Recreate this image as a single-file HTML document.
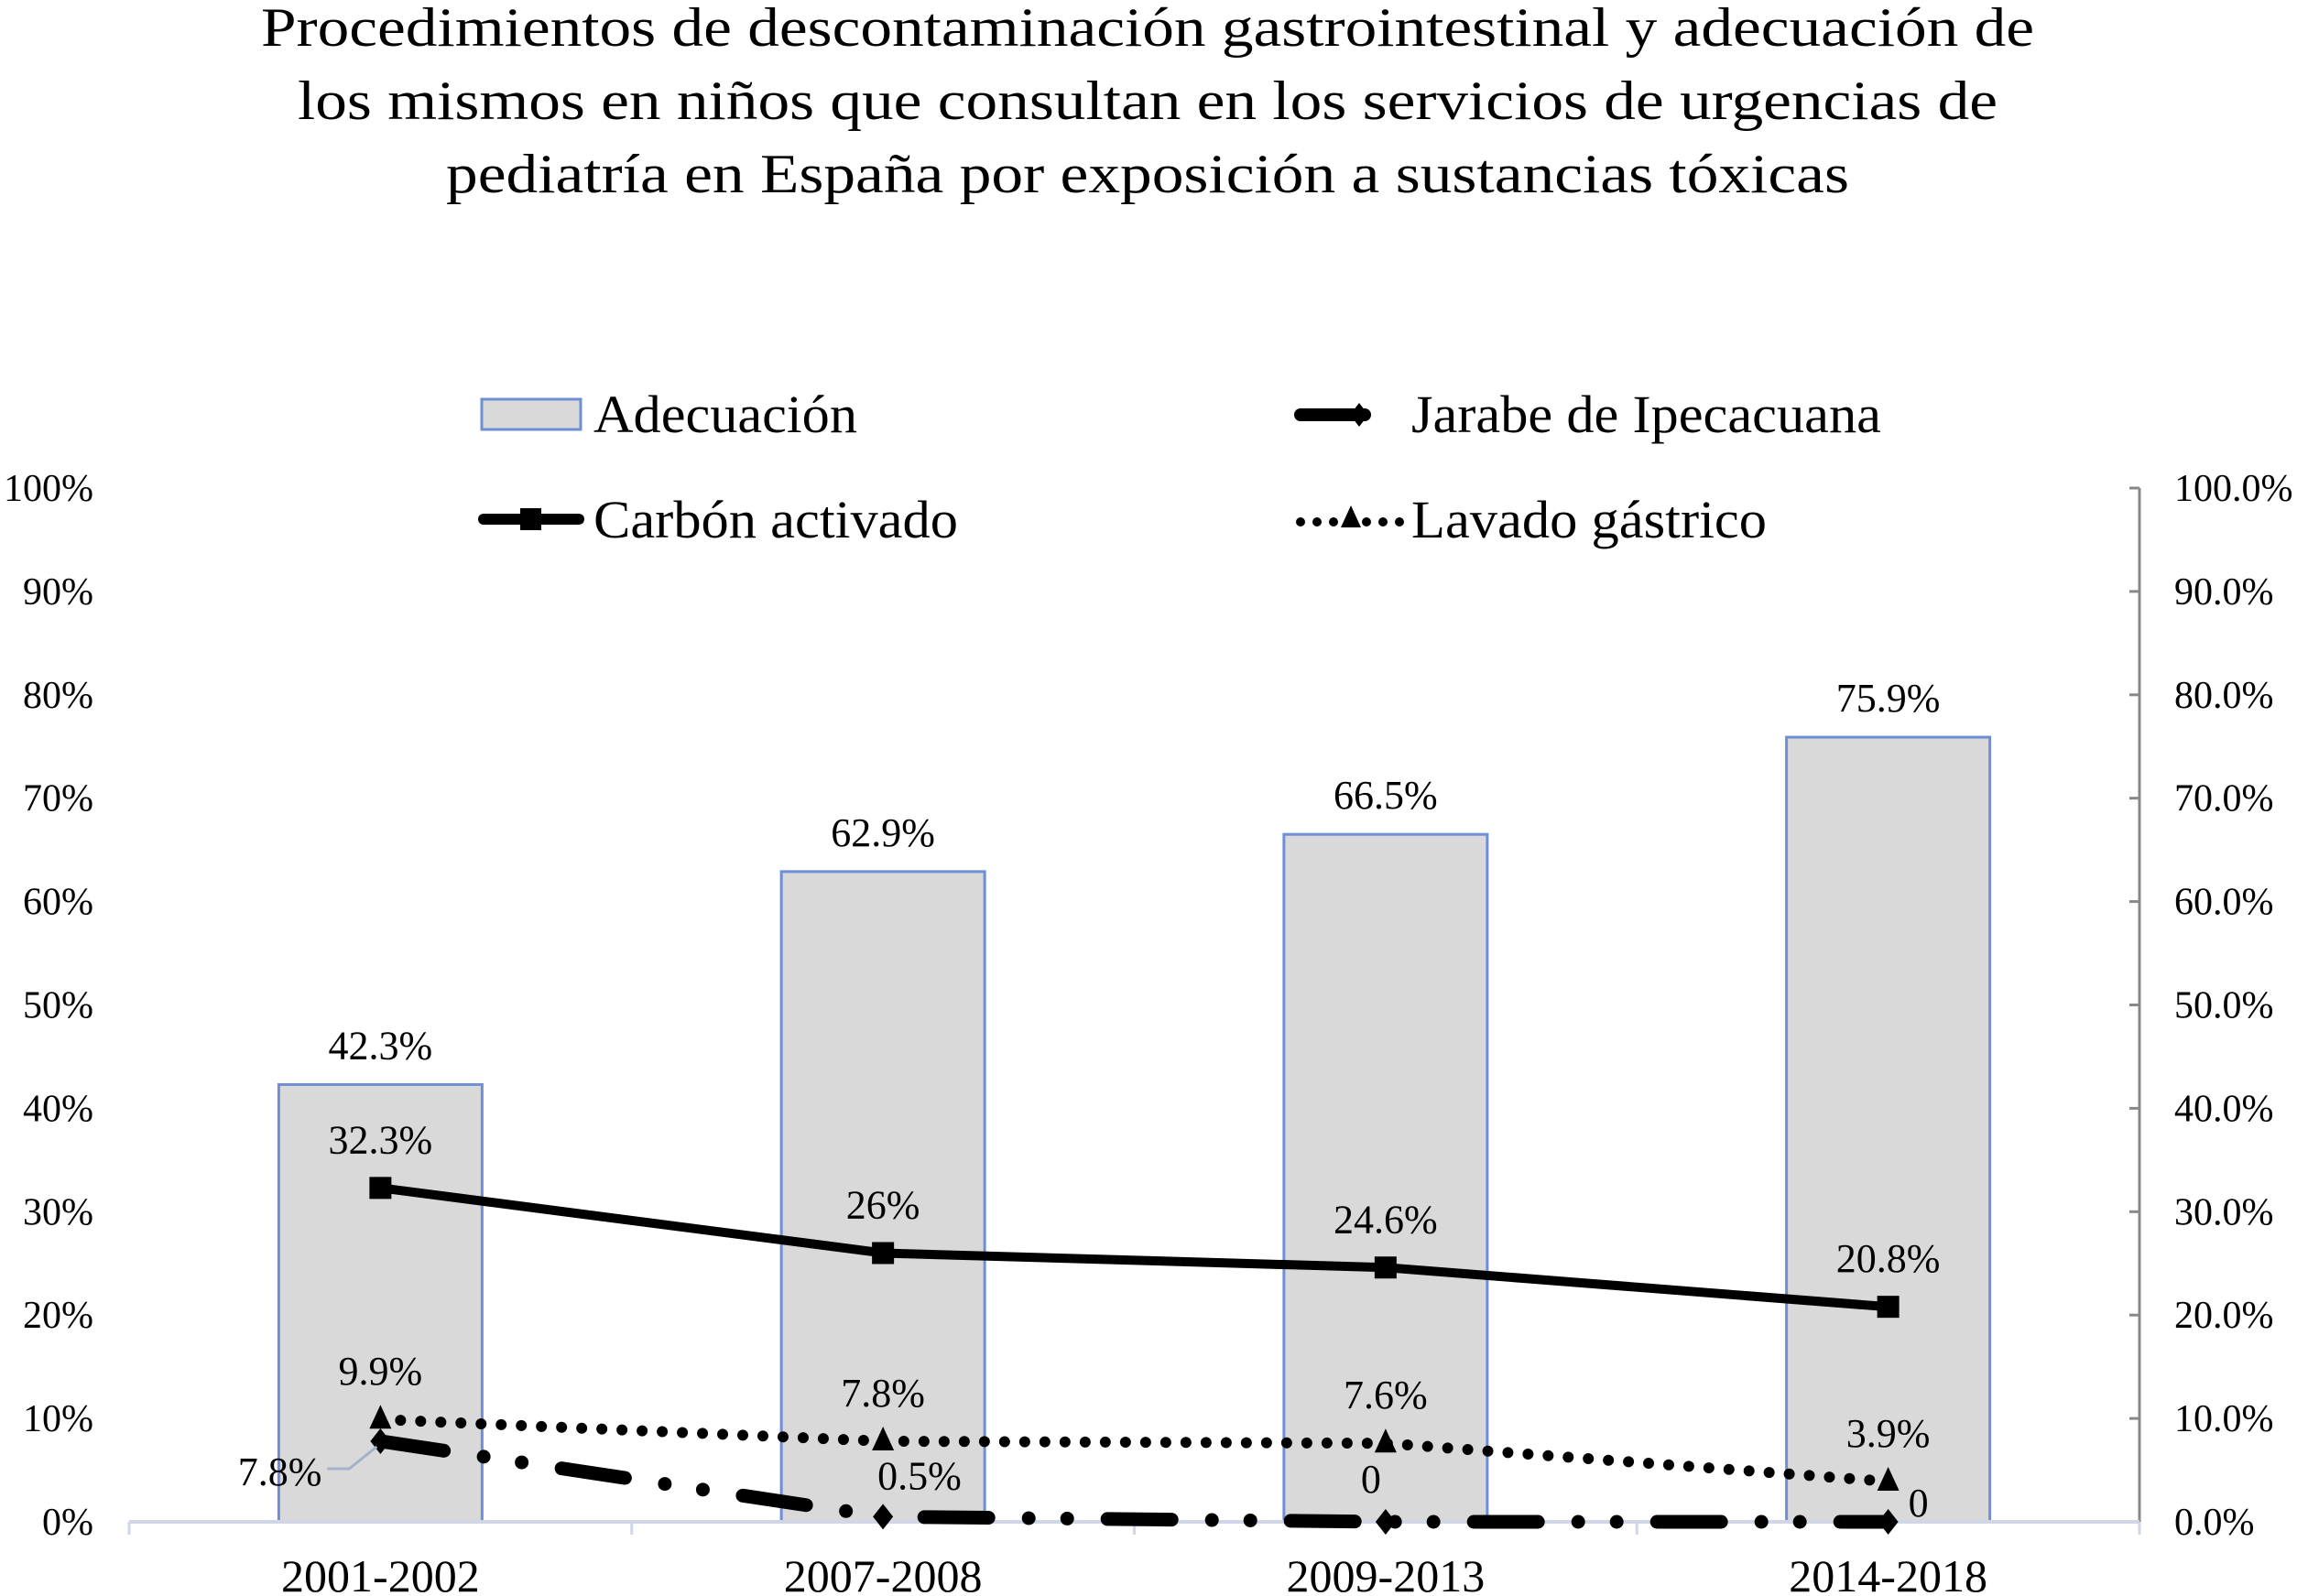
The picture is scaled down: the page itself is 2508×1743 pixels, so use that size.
<!DOCTYPE html>
<html><head><meta charset="utf-8"><style>
html,body{margin:0;padding:0;background:#fff;}
svg{display:block;font-family:"Liberation Serif",serif;}
</style></head><body>
<svg id="chart" width="2508" height="1743" viewBox="0 0 2508 1743" xmlns="http://www.w3.org/2000/svg">
<g font-size="60" text-anchor="middle" fill="#000">
<text x="1253" y="50" textLength="1936" lengthAdjust="spacingAndGlyphs">Procedimientos de descontaminación gastrointestinal y adecuación de</text>
<text x="1253" y="130" textLength="1856" lengthAdjust="spacingAndGlyphs">los mismos en niños que consultan en los servicios de urgencias de</text>
<text x="1253" y="210" textLength="1532" lengthAdjust="spacingAndGlyphs">pediatría en España por exposición a sustancias tóxicas</text>
</g>
<g font-size="58" fill="#000">
<g>
<rect x="526" y="436" width="108" height="33" fill="#d9d9d9" stroke="#6f8fd4" stroke-width="3"/>
<text x="648" y="472" textLength="288" lengthAdjust="spacingAndGlyphs">Adecuación</text></g>
<g>
<line x1="1420" y1="453" x2="1490" y2="453" stroke="#000" stroke-width="14" stroke-linecap="round"/>
<path d="M1484 440 L1494 453 L1484 466 L1474 453Z" fill="#000"/>
<text x="1541" y="472" textLength="513" lengthAdjust="spacingAndGlyphs">Jarabe de Ipecacuana</text></g>
<g>
<line x1="528" y1="567" x2="632" y2="567" stroke="#000" stroke-width="12" stroke-linecap="round"/>
<rect x="568" y="555" width="23" height="24" fill="#000"/>
<text x="648" y="587" textLength="398" lengthAdjust="spacingAndGlyphs">Carbón activado</text></g>
<g>
<line x1="1420" y1="570" x2="1530" y2="570" stroke="#000" stroke-width="10" stroke-linecap="round" stroke-dasharray="0 18"/>
<path d="M1475 552 L1486 576 L1464 576Z" fill="#000"/>
<text x="1541" y="587" textLength="388" lengthAdjust="spacingAndGlyphs">Lavado gástrico</text></g>
</g>
<g id="plot"></g>
</svg>
<script>
const categories = ["2001-2002","2007-2008","2009-2013","2014-2018"];
const adecuacion = [42.3, 62.9, 66.5, 75.9];
const carbon = [32.3, 26, 24.6, 20.8];
const lavado = [9.9, 7.8, 7.6, 3.9];
const jarabe = [7.8, 0.5, 0, 0];
const adecuacionLabels = ["42.3%","62.9%","66.5%","75.9%"];
const carbonLabels = ["32.3%","26%","24.6%","20.8%"];
const lavadoLabels = ["9.9%","7.8%","7.6%","3.9%"];
const jarabeLabels = ["7.8%","0.5%","0","0"];
const leftTicks = [0,10,20,30,40,50,60,70,80,90,100];
const leftTickLabels = ["0%","10%","20%","30%","40%","50%","60%","70%","80%","90%","100%"];
const rightTickLabels = ["0.0%","10.0%","20.0%","30.0%","40.0%","50.0%","60.0%","70.0%","80.0%","90.0%","100.0%"];

const NS="http://www.w3.org/2000/svg";
const plot=document.getElementById('plot');
const X0=141, X1=2336, Y0=1662, Y100=533;
const bw=(X1-X0)/categories.length;
const xc=i=>X0+bw*(i+0.5);
const y=v=>Y0-(Y0-Y100)*v/100;
function mk(tag,attrs,parent){const e=document.createElementNS(NS,tag);for(const k in attrs)e.setAttribute(k,attrs[k]);(parent||plot).appendChild(e);return e;}
function txt(s,attrs){const e=mk('text',attrs);e.textContent=s;return e;}

leftTicks.forEach((t,i)=>{
  const e=txt(leftTickLabels[i],{x:102,y:y(t)+14,'font-size':42,'text-anchor':'end',fill:'#000'});
  
  
  const r=txt(rightTickLabels[i],{x:2374,y:y(t)+14,'font-size':42,fill:'#000'});
  
  
  const tk=mk('line',{x1:2325,x2:2336,y1:y(t),y2:y(t),stroke:'#888','stroke-width':3});
  
  
});
const ra=mk('line',{x1:2336,x2:2336,y1:Y100,y2:Y0,stroke:'#888','stroke-width':3});



adecuacion.forEach((v,i)=>{
  const b=mk('rect',{x:xc(i)-111,y:y(v),width:222,height:Y0-y(v),fill:'#d9d9d9',stroke:'#6f8fd4','stroke-width':3});
  
  
  const l=txt(adecuacionLabels[i],{x:xc(i),y:y(v)-28,'font-size':44,'text-anchor':'middle',fill:'#000'});
  
  
});

const xa=mk('line',{x1:X0,x2:X1,y1:Y0,y2:Y0,stroke:'#d0d6e6','stroke-width':4});


for(let i=0;i<=categories.length;i++){
  const t=mk('line',{x1:X0+bw*i,x2:X0+bw*i,y1:Y0,y2:Y0+14,stroke:'#d0d6e6','stroke-width':3});
  
  
}
categories.forEach((c,i)=>{
  const l=txt(c,{x:xc(i),y:1738,'font-size':50,'text-anchor':'middle',fill:'#000'});
  
  
});

function pts(arr){return arr.map((v,i)=>xc(i)+','+y(v)).join(' ');}
const cl=mk('polyline',{points:pts(carbon),fill:'none',stroke:'#000','stroke-width':10,'stroke-linejoin':'round'});


carbon.forEach((v,i)=>{
  const m=mk('rect',{x:xc(i)-12,y:y(v)-12,width:24,height:24,fill:'#000'});
  
  
  const l=txt(carbonLabels[i],{x:xc(i),y:y(v)-38,'font-size':44,'text-anchor':'middle',fill:'#000'});
  
  
});
const ll=mk('polyline',{points:pts(lavado),fill:'none',stroke:'#000','stroke-width':12,'stroke-linecap':'round','stroke-dasharray':'0 22'});


lavado.forEach((v,i)=>{
  const m=mk('path',{d:`M${xc(i)} ${y(v)-16} L${xc(i)+12} ${y(v)+10} L${xc(i)-12} ${y(v)+10}Z`,fill:'#000'});
  
  
  const l=txt(lavadoLabels[i],{x:xc(i),y:y(v)-38,'font-size':44,'text-anchor':'middle',fill:'#000'});
  
  
});
const jl=mk('polyline',{points:pts(jarabe),fill:'none',stroke:'#000','stroke-width':15,'stroke-linecap':'round','stroke-dasharray':'70 44 0 42 0 44'});


jarabe.forEach((v,i)=>{
  const m=mk('path',{d:`M${xc(i)} ${y(v)-14} L${xc(i)+11} ${y(v)} L${xc(i)} ${y(v)+14} L${xc(i)-11} ${y(v)}Z`,fill:'#000'});
  
  
});
const jOff=[[-64,48,'end'],[-6,-30,'start'],[-16,-32,'middle'],[22,-6,'start']];
jarabe.forEach((v,i)=>{
  const l=txt(jarabeLabels[i],{x:xc(i)+jOff[i][0],y:y(v)+jOff[i][1],'font-size':44,'text-anchor':jOff[i][2],fill:'#000'});
  
  
});
const ld=mk('polyline',{points:`${xc(0)-58},${y(jarabe[0])+30} ${xc(0)-34},${y(jarabe[0])+30} ${xc(0)-4},${y(jarabe[0])+6}`,fill:'none',stroke:'#a6b0c8','stroke-width':3});


</script>
</body></html>
